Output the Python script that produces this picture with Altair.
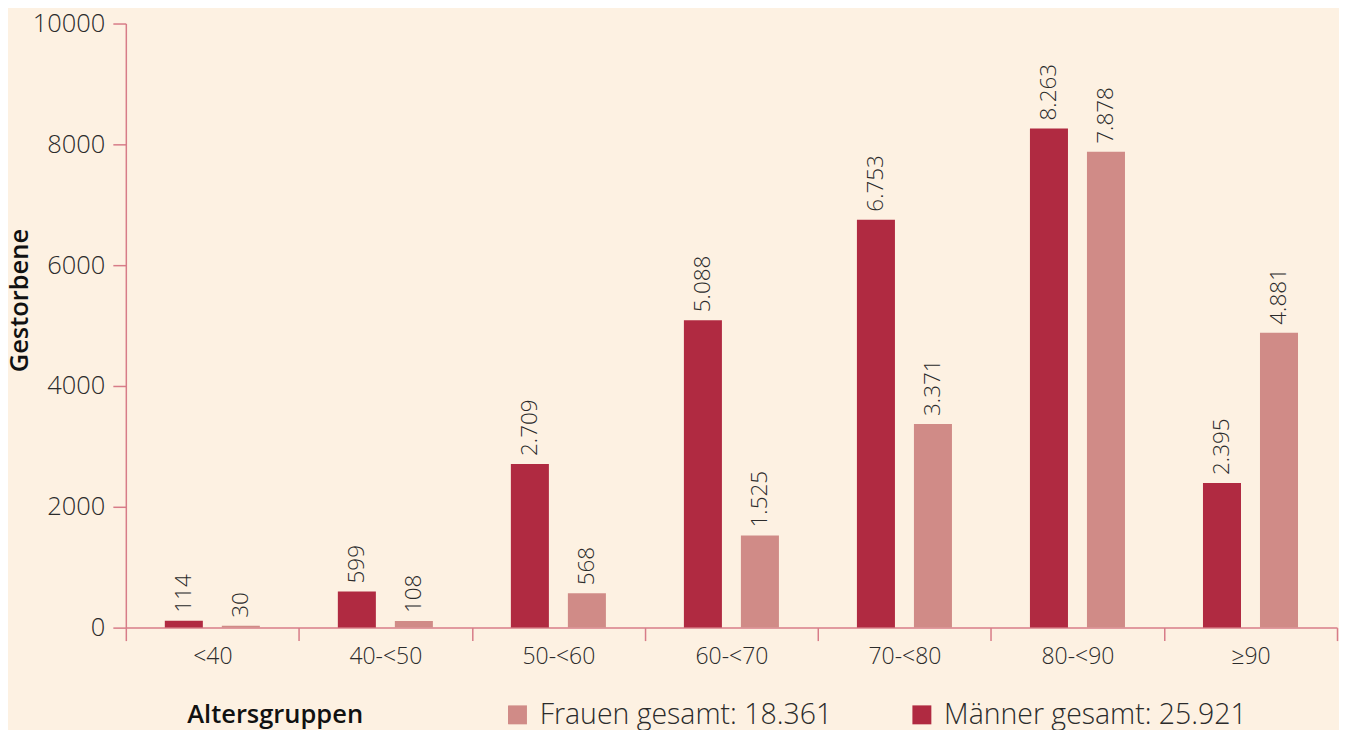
import altair as alt
import pandas as pd

categories = ["<40", "40-<50", "50-<60", "60-<70", "70-<80", "80-<90", "≥90"]
maenner = [114, 599, 2709, 5088, 6753, 8263, 2395]
frauen = [30, 108, 568, 1525, 3371, 7878, 4881]
series = ["Männer", "Frauen"]
y_ticks = [0, 2000, 4000, 6000, 8000, 10000]


def de(n):
    return f"{n:,}".replace(",", ".")


rows = []
for c, m, f in zip(categories, maenner, frauen):
    rows.append({"Altersgruppe": c, "Geschlecht": "Männer", "Wert": m, "Label": de(m)})
    rows.append({"Altersgruppe": c, "Geschlecht": "Frauen", "Wert": f, "Label": de(f)})
df = pd.DataFrame(rows)

tot_m = de(sum(maenner))
tot_f = de(sum(frauen))
label_expr = (
    f"datum.label == 'Männer' ? 'Männer gesamt: {tot_m}' : 'Frauen gesamt: {tot_f}'"
)

FONT = "Open Sans"
AXIS_COLOR = "#d77c88"
TEXT_COLOR = "#2b2b2b"

x = alt.X(
    "Altersgruppe:N",
    sort=categories,
    scale=alt.Scale(paddingInner=0, paddingOuter=0),
    axis=alt.Axis(
        title="Altersgruppen",
        titleX=61,
        titleY=95,
        titleAlign="left",
        titleAnchor="start",
        titleBaseline="alphabetic",
        titleFontSize=25.5,
        titleFontWeight=600,
        titleFont=FONT,
        titleColor="#111111",
        labelAngle=0,
        labelFontSize=23,
        labelFontWeight=300,
        labelFont=FONT,
        labelColor=TEXT_COLOR,
        labelPadding=5,
        tickBand="extent",
        tickSize=13,
        tickColor=AXIS_COLOR,
        domainColor=AXIS_COLOR,
        tickWidth=1.5,
        domainWidth=1.5,
    ),
)

xoff = alt.XOffset(
    "Geschlecht:N",
    sort=series,
    scale=alt.Scale(paddingInner=0.333, paddingOuter=0.684),
)

y = alt.Y(
    "Wert:Q",
    scale=alt.Scale(domain=[0, 10000], nice=False),
    axis=alt.Axis(
        values=y_ticks,
        format="d",
        title="Gestorbene",
        titleFontSize=25.5,
        titleFontWeight=600,
        titleFont=FONT,
        titleColor="#111111",
        titleAngle=270,
        titleX=-98,
        titleY=277,
        titleAlign="center",
        titleBaseline="alphabetic",
        labelFontSize=25.5,
        labelFontWeight=300,
        labelFont=FONT,
        labelColor=TEXT_COLOR,
        labelPadding=8,
        tickSize=13,
        tickColor=AXIS_COLOR,
        domainColor=AXIS_COLOR,
        tickWidth=1.5,
        domainWidth=1.5,
        grid=False,
    ),
)

color = alt.Color(
    "Geschlecht:N",
    scale=alt.Scale(domain=["Frauen", "Männer"], range=["#d08b87", "#b02a41"]),
    legend=alt.Legend(
        title=None,
        orient="none",
        legendX=378,
        legendY=678,
        direction="horizontal",
        symbolType="square",
        symbolSize=360,
        symbolStrokeWidth=0,
        symbolOpacity=1,
        labelFontSize=28.5,
        labelFontWeight=300,
        labelFont=FONT,
        labelColor=TEXT_COLOR,
        labelLimit=500,
        labelOffset=8,
        columnPadding=75,
        labelExpr=label_expr,
    ),
)

base = alt.Chart(df)

bars = base.mark_bar().encode(x=x, xOffset=xoff, y=y, color=color)

labels = base.mark_text(
    angle=270,
    align="left",
    baseline="middle",
    dx=8,
    fontSize=22.5,
    fontWeight=300,
    font=FONT,
    color=TEXT_COLOR,
).encode(
    x=alt.X("Altersgruppe:N", sort=categories),
    xOffset=alt.XOffset("Geschlecht:N", sort=series),
    y="Wert:Q",
    text="Label:N",
)

chart = (
    alt.layer(bars, labels)
    .properties(
        width=1213,
        height=605,
        background="#fdf1e2",
        padding={"left": 118, "top": 15, "right": 2, "bottom": 108},
        autosize=alt.AutoSizeParams(type="none"),
    )
    .configure_view(stroke=None)
)

chart.save("out.html", embed_options={"renderer": "svg", "actions": False})
